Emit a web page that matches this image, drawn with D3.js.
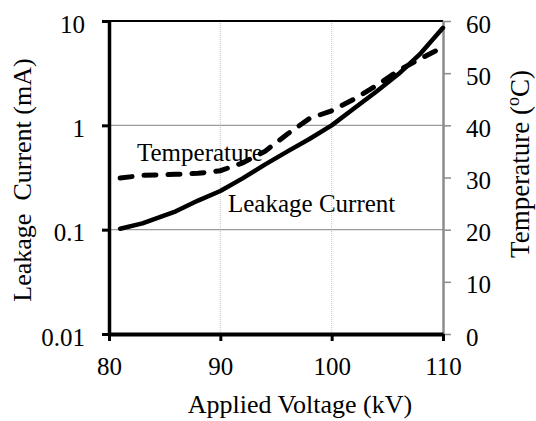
<!DOCTYPE html>
<html>
<head>
<meta charset="utf-8">
<script src="https://cdn.jsdelivr.net/npm/d3@7"></script>
<style>
  html, body { margin: 0; padding: 0; background: #fff; }
  svg { display: block; }
  text { font-family: "Liberation Serif", "Times New Roman", serif; fill: #000; }
</style>
</head>
<body>
<svg id="chart" width="536" height="421"></svg>
<script>
// ---- data ----
const voltage = [81, 83, 86, 88, 90, 92, 94, 96, 98, 100, 102, 104, 106, 108, 110];
const leakageCurrent = [0.102, 0.115, 0.15, 0.19, 0.235, 0.31, 0.42, 0.56, 0.74, 1.0, 1.45, 2.1, 3.1, 4.9, 8.6];
const temperature = [29.9, 30.4, 30.6, 30.8, 31.3, 32.8, 35.0, 38.3, 41.3, 42.8, 45.0, 47.6, 50.5, 52.8, 55.0];
const xTicks = [80, 90, 100, 110];
const leftTicks = [0.01, 0.1, 1, 10];
const leftTickLabels = ["0.01", "0.1", "1", "10"];
const rightTicks = [0, 10, 20, 30, 40, 50, 60];
const xTitle = "Applied Voltage (kV)";
const leftTitle = "Leakage\u00a0\u00a0Current (mA)";
const rightTitle = "Temperature (";
const seriesLabels = ["Temperature", "Leakage Current"];

// ---- layout ----
const FONT = "'Liberation Serif', 'Times New Roman', serif";
const svg = d3.select("#chart");
const L = 109, R = 443, T = 21, B = 334;
const x = d3.scaleLinear().domain([80, 110]).range([L, R]);
const yL = d3.scaleLog().domain([0.01, 10]).range([B, T]);
const yR = d3.scaleLinear().domain([0, 60]).range([B, T]);

// gridlines
svg.append("g").selectAll("line").data([90, 100]).join("line")
  .attr("x1", d => x(d)).attr("x2", d => x(d))
  .attr("y1", T).attr("y2", B)
  .attr("stroke", "#c4c4c4").attr("stroke-width", 1).attr("stroke-dasharray", "1,1");
svg.append("g").selectAll("line").data([0.1, 1]).join("line")
  .attr("x1", L).attr("x2", R)
  .attr("y1", d => yL(d)).attr("y2", d => yL(d))
  .attr("stroke", "#9a9a9a").attr("stroke-width", 1.2);

// top border
svg.append("line").attr("x1", L).attr("x2", R).attr("y1", T).attr("y2", T)
  .attr("stroke", "#000").attr("stroke-width", 2);

// right axis
const gR = svg.append("g").attr("transform", `translate(${R},0)`)
  .call(d3.axisRight(yR).tickValues(rightTicks).tickSize(8).tickPadding(15).tickSizeOuter(0))
  .attr("font-family", FONT).attr("font-size", 25);
gR.select(".domain").attr("stroke", "#8c8c8c").attr("stroke-width", 2.5);
gR.selectAll(".tick line").attr("stroke", "#8c8c8c").attr("stroke-width", 1.5);
gR.selectAll(".tick text").attr("dy", "0.44em");

// lines
const lineC = d3.line().x((d, i) => x(voltage[i])).y(d => yL(d));
const lineT = d3.line().x((d, i) => x(voltage[i])).y(d => yR(d));
svg.append("path").datum(temperature).attr("d", lineT)
  .attr("fill", "none").attr("stroke", "#000").attr("stroke-width", 5)
  .attr("stroke-dasharray", "12,12").attr("stroke-linecap", "round");
svg.append("path").datum(leakageCurrent).attr("d", lineC)
  .attr("fill", "none").attr("stroke", "#000").attr("stroke-width", 4.5)
  .attr("stroke-linecap", "round").attr("stroke-linejoin", "round");

// left axis
const gL = svg.append("g").attr("transform", `translate(${L},0)`)
  .call(d3.axisLeft(yL).tickValues(leftTicks).tickFormat((d, i) => leftTickLabels[i])
    .tickSize(7).tickPadding(17).tickSizeOuter(0))
  .attr("font-family", FONT).attr("font-size", 25);
gL.select(".domain").attr("stroke", "#000").attr("stroke-width", 3.5);
gL.selectAll(".tick line").attr("stroke", "#000").attr("stroke-width", 3);
gL.selectAll(".tick text").attr("dy", "0.44em");

// bottom axis
const gB = svg.append("g").attr("transform", `translate(0,${B})`)
  .call(d3.axisBottom(x).tickValues(xTicks).tickFormat(d3.format("d"))
    .tickSize(7).tickPadding(16).tickSizeOuter(0))
  .attr("font-family", FONT).attr("font-size", 25);
gB.select(".domain").attr("stroke", "#000").attr("stroke-width", 4);
gB.selectAll(".tick line").attr("stroke", "#000").attr("stroke-width", 3);

// series labels
svg.append("text").attr("x", 137).attr("y", 161).attr("font-size", 25)
  .attr("font-family", FONT).text(seriesLabels[0]);
svg.append("text").attr("x", 228).attr("y", 212).attr("font-size", 25)
  .attr("font-family", FONT).text(seriesLabels[1]);

// axis titles
svg.append("text").attr("x", 300).attr("y", 413).attr("text-anchor", "middle")
  .attr("font-family", FONT).attr("font-size", 26).text(xTitle);
svg.append("text").attr("transform", "translate(31,180) rotate(-90)")
  .attr("text-anchor", "middle").attr("font-family", FONT).attr("font-size", 26)
  .text(leftTitle);
const rt = svg.append("text").attr("transform", "translate(529,164) rotate(-90)")
  .attr("text-anchor", "middle").attr("font-family", FONT).attr("font-size", 27);
rt.append("tspan").text(rightTitle);
rt.append("tspan").attr("font-size", 18).attr("dy", -10).text("o");
rt.append("tspan").attr("dy", 10).text("C)");
</script>
</body>
</html>
